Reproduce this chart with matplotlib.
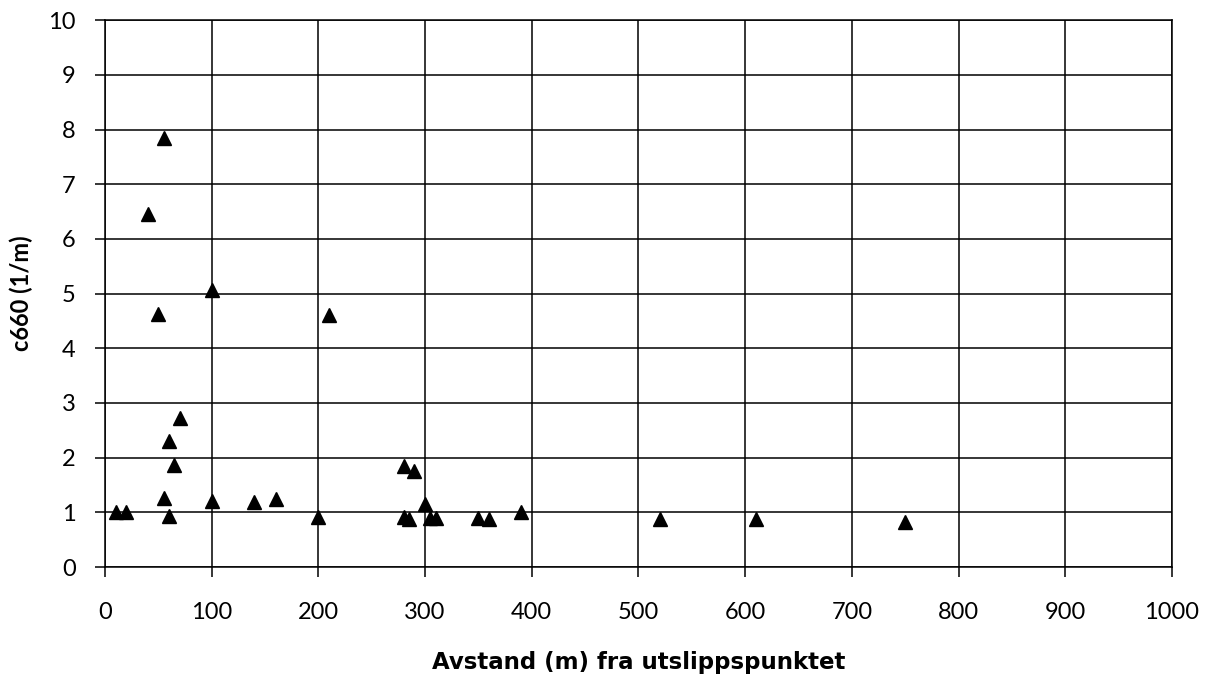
import matplotlib.pyplot as plt

# distance from outlet (m) and c660 (1/m)
avstand = [10, 20, 40, 55, 50, 100, 210, 70, 60, 65, 55, 60, 100, 140, 160, 200,
           280, 290, 280, 285, 300, 305, 310, 350, 360, 390, 520, 610, 750]
c660 = [1.0, 1.0, 6.45, 7.85, 4.62, 5.06, 4.6, 2.72, 2.3, 1.87, 1.27, 0.93, 1.2, 1.18, 1.25, 0.92,
        1.85, 1.76, 0.92, 0.88, 1.15, 0.9, 0.9, 0.9, 0.88, 1.0, 0.87, 0.88, 0.83]

xticks = list(range(0, 1001, 100))
yticks = list(range(0, 11))

plt.rcParams['font.family'] = ['Lato', 'DejaVu Sans']

fig = plt.figure(figsize=(12.12, 6.75), dpi=100, facecolor='white')
ax = fig.add_axes([0.0866, 0.16, 0.8804, 0.81])

ax.plot(avstand, c660, linestyle='none', marker='^', markersize=10,
        color='black', zorder=3, clip_on=False)

ax.set_xlim(0, 1000)
ax.set_ylim(0, 10)
ax.set_xticks(xticks)
ax.set_yticks(yticks)
ax.grid(True, color='black', linewidth=1.1)
for s in ax.spines.values():
    s.set_linewidth(1.1)
ax.tick_params(axis='both', direction='out', length=7, width=1.1, labelsize=17)
ax.tick_params(axis='x', pad=18)
ax.tick_params(axis='y', pad=14)

ax.set_xlabel('Avstand (m) fra utslippspunktet', fontsize=16.5, fontweight='bold',
              family='DejaVu Sans', labelpad=20)
ax.set_ylabel('c660 (1/m)', fontsize=17, fontweight='bold', labelpad=11)

fig.savefig('out.png', dpi=100)
